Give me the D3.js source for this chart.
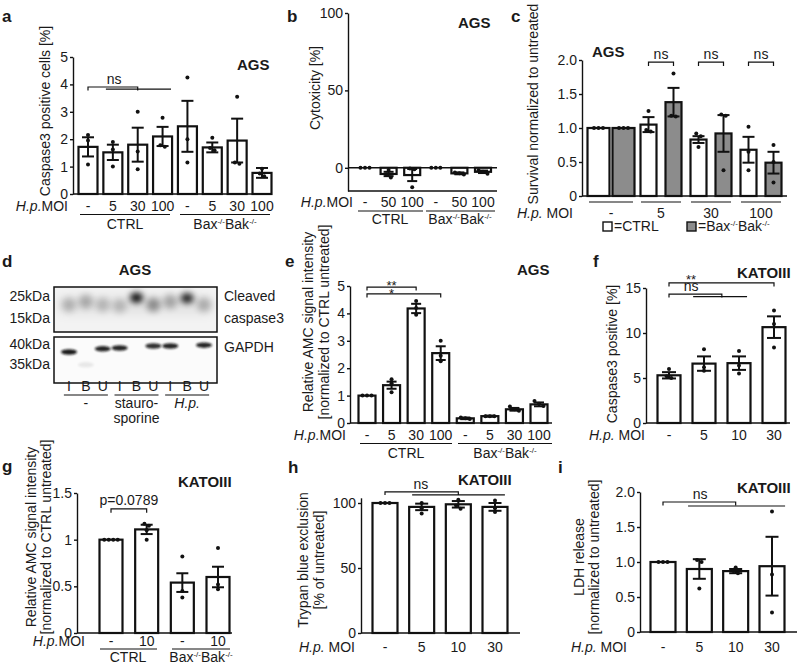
<!DOCTYPE html>
<html><head><meta charset="utf-8">
<script src="https://cdn.jsdelivr.net/npm/d3@7"></script>
<style>
body{margin:0;background:#fff;}
svg text{font-family:"Liberation Sans",Arial,Helvetica,sans-serif;fill:#1a1a1a;}
</style></head><body>
<script>
// ================= DATA =================
// a – AGS caspase3 positive cells
const aTicks=[0,1,2,3,4,5];
const aMOI=["-","5","30","100","-","5","30","100"];
const aMean=[1.72,1.52,1.80,2.10,2.47,1.70,1.95,0.77];
const aSEM=[0.35,0.28,0.62,0.35,0.93,0.18,0.80,0.18];
const aPts=[[2.15,1.95,1.08],[1.90,1.62,1.00],[3.00,1.55,0.90],[2.78,1.78,1.72],[4.25,2.00,1.15],[2.05,1.68,1.60],[3.55,1.15,1.10],[0.92,0.75,0.65]];
// b – AGS cytotoxicity
const bTicks=[0,50,100];
const bMOI=["-","50","100","-","50","100"];
const bMean=[0,-4.0,-4.7,0,-3.6,-2.6];
const bSEM=[0,1.4,3.9,0,0.6,0.8];
const bPts=[[0,0,0],[-1.5,-4.2,-6.3],[-0.5,-1.0,-12.5],[0,0,0],[-3.0,-3.6,-4.4],[-1.6,-2.6,-3.8]];
// c – AGS survival
const cTicks=[0,0.5,1.0,1.5,2.0];
const cMOI=["-","5","30","100"];
const cCtrl=[1.0,1.05,0.83,0.68];
const cCtrlSEM=[0,0.11,0.05,0.19];
const cCtrlPts=[[1,1,1],[1.25,0.97,0.95],[0.92,0.88,0.72],[1.02,0.65,0.38]];
const cBax=[1.0,1.38,0.92,0.49];
const cBaxSEM=[0,0.21,0.27,0.16];
const cBaxPts=[[1,1,1],[1.80,1.18,1.17],[1.20,1.18,0.38],[0.75,0.50,0.20]];
// d – western blot
const dLanes=["I","B","U","I","B","U","I","B","U"];
const dTreat=["-","stauro-|sporine","H.p."];
const dCasMW=[21.0,22.5,21.0,20.5,24.2,21.0,22.5,24.0,21.0];
const dCasInt=[0.22,0.26,0.20,0.20,1.0,0.38,0.28,0.9,0.24];
const dGapMW=[38.0,34.8,38.8,39.0,37,39.5,39.5,37,39.7];
const dGapInt=[0.95,0.08,0.90,0.90,0,0.85,0.90,0,0.90];
// e – AGS relative AMC
const eTicks=[0,1,2,3,4,5];
const eMOI=["-","5","30","100","-","5","30","100"];
const eMean=[1.0,1.38,4.18,2.55,0.17,0.25,0.50,0.68];
const eSEM=[0,0.13,0.17,0.25,0.03,0.02,0.05,0.07];
const ePts=[[1,1,1],[1.60,1.45,1.12],[4.45,4.20,3.95],[3.00,2.45,2.25],[0.20,0.17,0.15],[0.25,0.25,0.25],[0.60,0.50,0.45],[0.80,0.70,0.62]];
// f – KATOIII caspase3 positive
const fTicks=[0,5,10,15];
const fMOI=["-","5","10","30"];
const fMean=[5.3,6.6,6.65,10.65];
const fSEM=[0.35,0.8,0.75,1.2];
const fPts=[[6.0,5.2,5.0],[8.2,6.2,5.8],[8.0,6.4,5.5],[12.5,11.0,8.4]];
// g – KATOIII relative AMC
const gTicks=[0,0.5,1,1.5];
const gMOI=["-","10","-","10"];
const gMean=[1.0,1.11,0.54,0.60];
const gSEM=[0,0.05,0.10,0.11];
const gPts=[[1,1,1,1],[1.17,1.15,1.10,1.00],[0.82,0.45,0.38],[0.91,0.52,0.47]];
// h – KATOIII trypan blue
const hTicks=[0,50,100];
const hMOI=["-","5","10","30"];
const hMean=[100,97,99,97];
const hSEM=[0,2.5,2.5,3];
const hPts=[[100,100,100],[100,96,92],[102.5,98,95.5],[102,96,93]];
// i – KATOIII LDH release
const iTicks=[0,0.5,1.0,1.5,2.0];
const iMOI=["-","5","10","30"];
const iMean=[1.0,0.90,0.87,0.94];
const iSEM=[0,0.14,0.03,0.42];
const iPts=[[1,1,1],[1.03,1.0,0.62],[0.92,0.87,0.84],[1.72,0.82,0.28]];

// ================= HELPERS =================
const INK="#111";
const svg=d3.select("body").append("svg").attr("width",798).attr("height",667);
const defs=svg.append("defs");

function txt(x,y,s,o={}){
  const t=svg.append("text").attr("x",x).attr("y",y).text(s)
    .style("font-size",(o.size||14)+"px").attr("text-anchor",o.anchor||"start");
  if(o.bold) t.style("font-weight","bold");
  if(o.italic) t.style("font-style","italic");
  return t;
}
function line(x1,y1,x2,y2,w){
  return svg.append("line").attr("x1",x1).attr("y1",y1).attr("x2",x2).attr("y2",y2)
    .attr("stroke",INK).attr("stroke-width",w||1.4);
}
function hpLabel(x,y,space){
  const t=svg.append("text").attr("x",x).attr("y",y).attr("text-anchor","end").style("font-size","14px");
  t.append("tspan").style("font-style","italic").text("H.p.");
  t.append("tspan").text(space?" MOI":"MOI");
}
function baxLabel(x,y){
  const t=svg.append("text").attr("x",x).attr("y",y).attr("text-anchor","middle").style("font-size","14px");
  t.append("tspan").text("Bax");
  t.append("tspan").attr("dy",-5).style("font-size","8px").text("-/-");
  t.append("tspan").attr("dy",5).text("Bak");
  t.append("tspan").attr("dy",-5).style("font-size","8px").text("-/-");
}
function yLabel(cx,cy,lines,gap){
  const t=svg.append("text").attr("transform",`translate(${cx},${cy}) rotate(-90)`)
    .attr("text-anchor","middle").style("font-size","14px");
  lines.forEach((l,i)=>t.append("tspan").attr("x",0).attr("y",(i-(lines.length-1)/2)*(gap||15)).attr("dy","0.35em").text(l));
}
function yAxis(y,ax,ticks,fmt){
  const g=svg.append("g").attr("transform",`translate(${ax},0)`)
    .call(d3.axisLeft(y).tickValues(ticks).tickFormat(fmt).tickSize(3).tickSizeOuter(0).tickPadding(2));
  g.attr("font-family",null).attr("font-size",null);
  g.select(".domain").attr("stroke",INK).attr("stroke-width",1.4);
  g.selectAll(".tick line").attr("stroke",INK).attr("stroke-width",1.4);
  g.selectAll(".tick text").style("font-size","14px").attr("fill","#1a1a1a");
}
function drawBar(y,cx,w,mean,sem,pts,capW,fill){
  const y0=y(0), ym=y(mean);
  svg.append("rect").attr("x",cx-w/2).attr("y",Math.min(y0,ym)).attr("width",w)
    .attr("height",Math.abs(ym-y0)).attr("fill",fill||"#fff").attr("stroke",INK).attr("stroke-width",2.2);
  if(sem>0){
    const yt=y(mean+sem), yb=y(mean-sem);
    line(cx,yt,cx,yb,2);
    line(cx-capW/2,yt,cx+capW/2,yt,2);
    line(cx-capW/2,yb,cx+capW/2,yb,2);
  }
  const ps=pts.map(v=>y(v)).sort((a,b)=>a-b);
  const cl=[];
  ps.forEach(p=>{const c=cl[cl.length-1]; if(c&&p-c[c.length-1]<3.5) c.push(p); else cl.push([p]);});
  cl.forEach(c=>c.forEach((p,j)=>svg.append("circle").attr("cx",cx+(j-(c.length-1)/2)*4.5).attr("cy",p).attr("r",2).attr("fill",INK)));
}
function bracketPx(x0,x1,yy,d0,d1){
  svg.append("path").attr("d",`M${x0},${yy+d0}V${yy}H${x1}V${yy+d1}`)
    .attr("fill","none").attr("stroke",INK).attr("stroke-width",1.2);
}
function simplePanel(o){
  const y=d3.scaleLinear().domain(o.domain).range(o.px);
  const x=d3.scalePoint().domain(d3.range(o.mean.length)).range(o.range);
  const X=f=>x(0)+f*x.step();
  yAxis(y,o.axisX,o.ticks,o.fmt||(d=>d));
  line(o.axisX,y(o.base||0),o.axisEnd,y(o.base||0),1.4);
  o.mean.forEach((m,i)=>drawBar(y,x(i),o.barW,m,o.sem[i],o.pts[i],o.capW));
  o.labels.forEach((l,i)=>txt(x(i),o.tickY,l,{anchor:"middle"}));
  (o.brackets||[]).forEach(b=>bracketPx(X(b[0]),X(b[1]),y(b[2]),b[3],b[4]));
  (o.notes||[]).forEach(n=>txt(X(n[0]),y(n[1]),n[2],{anchor:"middle",size:n[3]||14}));
  return {x,y,X};
}

// ================= PANEL a =================
txt(2,22,"a",{bold:true,size:17});
txt(237,70,"AGS",{bold:true,size:15});
yLabel(45,111,["Caspase3 positive cells [%]"]);
simplePanel({domain:[0,5],px:[194,57],axisX:73,axisEnd:272,range:[88,262],barW:19,capW:12,
  ticks:aTicks,mean:aMean,sem:aSEM,pts:aPts,labels:aMOI,tickY:211,
  brackets:[[0,2,3.905,3.5,3.5],[0.72,3.34,3.83,0,0]],notes:[[1.05,4.02,"ns"]]});
hpLabel(68,211,false);
line(80,214.5,170,214.5,1.2); line(180,214.5,270,214.5,1.2);
txt(125,229,"CTRL",{anchor:"middle"}); baxLabel(225,229);

// ================= PANEL b =================
txt(287,22,"b",{bold:true,size:17});
txt(458,28,"AGS",{bold:true,size:15});
yLabel(315,88,["Cytoxicity [%]"]);
const pb=simplePanel({domain:[-15,100],px:[191,13],axisX:348,axisEnd:497,range:[365,483],barW:16,capW:10,
  ticks:bTicks,mean:bMean,sem:bSEM,pts:bPts,labels:bMOI,tickY:207});
line(348,pb.y(-15),497,pb.y(-15),1.4);
hpLabel(353,207,false);
line(358,211,423,211,1.2); line(426,211,495,211,1.2);
txt(390,224,"CTRL",{anchor:"middle"}); baxLabel(460,224);

// ================= PANEL c =================
txt(511,22,"c",{bold:true,size:17});
txt(592,57,"AGS",{bold:true,size:15});
yLabel(533,104,["Survival normalized to untreated"]);
(function(){
  const y=d3.scaleLinear().domain([0,2]).range([196,60]);
  const x=d3.scalePoint().domain(d3.range(cMOI.length)).range([611,761]);
  yAxis(y,582,cTicks,d=>d===0?"0":d3.format(".1f")(d));
  line(582,y(0),787,y(0),1.4);
  cMOI.forEach((m,i)=>{
    const w=i===0?22:16, off=12.5;
    drawBar(y,x(i)-off,w,cCtrl[i],cCtrlSEM[i],cCtrlPts[i],12,"#fff");
    drawBar(y,x(i)+off,w,cBax[i],cBaxSEM[i],cBaxPts[i],12,"#8c8c8c");
    if(i>0){ bracketPx(x(i)-off,x(i)+off,y(1.97),4,4); txt(x(i),y(2.01),"ns",{anchor:"middle"}); }
    const hw=i===0?22:20;
    line(x(i)-hw,202,x(i)+hw,202,1.2);
    txt(x(i),218,m,{anchor:"middle"});
  });
  hpLabel(573,218,true);
  svg.append("rect").attr("x",603).attr("y",222).attr("width",9).attr("height",9).attr("fill","#fff").attr("stroke",INK).attr("stroke-width",1.4);
  txt(614,231,"=CTRL");
  svg.append("rect").attr("x",687).attr("y",222).attr("width",9).attr("height",9).attr("fill","#8c8c8c").attr("stroke",INK).attr("stroke-width",1.4);
  const t=txt(698,231,"=Bax");
  t.append("tspan").attr("dy",-5).style("font-size","8px").text("-/-");
  t.append("tspan").attr("dy",5).text("Bak");
  t.append("tspan").attr("dy",-5).style("font-size","8px").text("-/-");
})();

// ================= PANEL d (blot) =================
txt(2,267,"d",{bold:true,size:17});
txt(135,275,"AGS",{anchor:"middle",bold:true,size:15});
(function(){
  const lx=d3.scalePoint().domain(d3.range(dLanes.length)).range([69,204]);
  const mwTop=d3.scaleLinear().domain([25,15]).range([296,318]);
  const mwBot=d3.scaleLinear().domain([40,35]).range([344,364]);
  const f1=defs.append("filter").attr("id","blurCas").attr("x","-100%").attr("y","-100%").attr("width","300%").attr("height","300%");
  f1.append("feGaussianBlur").attr("stdDeviation",3);
  const f0=defs.append("filter").attr("id","blurHaze").attr("x","-50%").attr("y","-50%").attr("width","200%").attr("height","200%");
  f0.append("feGaussianBlur").attr("stdDeviation",6);
  const f2=defs.append("filter").attr("id","blurGap").attr("x","-50%").attr("y","-100%").attr("width","200%").attr("height","300%");
  f2.append("feGaussianBlur").attr("stdDeviation",0.9);
  defs.append("clipPath").attr("id","clipTop").append("rect").attr("x",54).attr("y",287).attr("width",163).attr("height",45);
  defs.append("clipPath").attr("id","clipBot").append("rect").attr("x",54).attr("y",337).attr("width",163).attr("height",46);
  svg.append("rect").attr("x",54).attr("y",287).attr("width",163).attr("height",45).attr("fill","#f3f3f3");
  const gt=svg.append("g").attr("clip-path","url(#clipTop)");
  // general haze along the lanes
  gt.append("rect").attr("x",58).attr("y",296).attr("width",155).attr("height",18).attr("fill","#000").attr("opacity",0.07).attr("filter","url(#blurHaze)");
  dCasInt.forEach((v,i)=>{
    gt.append("ellipse").attr("cx",lx(i)).attr("cy",mwTop(dCasMW[i])).attr("rx",v>0.5?6.5:7).attr("ry",v>0.5?5:7)
      .attr("fill","#000").attr("opacity",v).attr("filter","url(#blurCas)");
  });
  svg.append("rect").attr("x",54).attr("y",287).attr("width",163).attr("height",45).attr("fill","none").attr("stroke",INK).attr("stroke-width",1.5);
  svg.append("rect").attr("x",54).attr("y",337).attr("width",163).attr("height",46).attr("fill","#fbfbfb");
  const gb=svg.append("g").attr("clip-path","url(#clipBot)");
  dGapInt.forEach((v,i)=>{
    if(v<=0) return;
    gb.append("ellipse").attr("cx",lx(i)).attr("cy",mwBot(dGapMW[i])).attr("rx",8).attr("ry",2.7)
      .attr("fill","#111").attr("opacity",v).attr("filter","url(#blurGap)");
  });
  svg.append("rect").attr("x",54).attr("y",337).attr("width",163).attr("height",46).attr("fill","none").attr("stroke",INK).attr("stroke-width",1.5);
  [[25,mwTop],[15,mwTop],[40,mwBot],[35,mwBot]].forEach(([k,s])=>txt(50,s(k)+5,k+"kDa",{anchor:"end"}));
  txt(224,301,"Cleaved"); txt(224,323,"caspase3"); txt(224,352,"GAPDH");
  dLanes.forEach((l,i)=>txt(lx(i),391,l,{anchor:"middle"}));
  dTreat.forEach((t,k)=>{
    const c=lx(k*3+1);
    line(c-22,395,c+22,395,1.2);
    t.split("|").forEach((s,j)=>txt(c,408+j*15,s,{anchor:"middle",italic:s==="H.p."}));
  });
})();

// ================= PANEL e =================
txt(285,267,"e",{bold:true,size:17});
txt(517,275,"AGS",{bold:true,size:15});
yLabel(316,322,["Relative AMC signal intensity","[normalized to CTRL untreated]"],16);
simplePanel({domain:[0,5],px:[423,286],axisX:350,axisEnd:552,range:[367,539],barW:17,capW:10,
  ticks:eTicks,mean:eMean,sem:eSEM,pts:ePts,labels:eMOI,tickY:440,
  brackets:[[0,2,4.96,3.5,3.5],[0,3,4.71,3.5,3.5]],notes:[[1,4.85,"**",13],[1,4.56,"*",13]]});
hpLabel(346,440,false);
line(360,443.5,452,443.5,1.2); line(458,443.5,552,443.5,1.2);
txt(406,458,"CTRL",{anchor:"middle"}); baxLabel(505,458);

// ================= PANEL f =================
txt(593,267,"f",{bold:true,size:17});
txt(737,278,"KATOIII",{bold:true,size:15});
yLabel(612,354,["Caspase3 positive [%]"]);
simplePanel({domain:[0,15],px:[423,288],axisX:646,axisEnd:790,range:[669,774],barW:23,capW:14,
  ticks:fTicks,mean:fMean,sem:fSEM,pts:fPts,labels:fMOI,tickY:440,
  brackets:[[0,3,15.56,3.5,3.5],[0,1.51,14.33,3.5,3.5],[0.69,2.23,14.04,0,0]],
  notes:[[0.63,15.45,"**",13],[0.63,14.67,"ns"]]});
hpLabel(645,440,true);

// ================= PANEL g =================
txt(2,472,"g",{bold:true,size:17});
txt(178,487,"KATOIII",{bold:true,size:15});
yLabel(39,537,["Relative AMC signal intensity","[normalized to CTRL untreated]"],15);
simplePanel({domain:[0,1.5],px:[633,493],axisX:77,axisEnd:232,range:[111,218],barW:23,capW:12,
  ticks:gTicks,mean:gMean,sem:gSEM,pts:gPts,labels:gMOI,tickY:646,
  brackets:[[0,1,1.33,4,4]],notes:[[0.5,1.37,"p=0.0789"]]});
hpLabel(85,646,false);
line(100,649,157,649,1.2); line(172,649,230,649,1.2);
txt(128,662,"CTRL",{anchor:"middle"}); baxLabel(201,662);

// ================= PANEL h =================
txt(288,473,"h",{bold:true,size:17});
txt(458,485,"KATOIII",{bold:true,size:15});
yLabel(311,560,["Trypan blue exclusion","[% of untreated]"],16);
simplePanel({domain:[0,104],px:[633,497.8],axisX:361,axisEnd:520,range:[385,495],barW:25,capW:13,
  ticks:hTicks,mean:hMean,sem:hSEM,pts:hPts,labels:hMOI,tickY:652,
  brackets:[[0,2,108.5,3,3],[0.74,3.27,106.2,0,0]],notes:[[0.98,110.8,"ns"]]});
hpLabel(355,652,true);

// ================= PANEL i =================
txt(558,473,"i",{bold:true,size:17});
txt(737,493,"KATOIII",{bold:true,size:15});
yLabel(587,557,["LDH release","[normalized to untreated]"],15);
simplePanel({domain:[0,2],px:[632,492],axisX:640,axisEnd:797,range:[663,772],barW:25,capW:13,
  ticks:iTicks,fmt:d=>d===0?"0":d3.format(".1f")(d),mean:iMean,sem:iSEM,pts:iPts,labels:iMOI,tickY:652,
  brackets:[[0,2,1.857,3.5,3.5],[0.69,3.36,1.8,0,0]],notes:[[1.02,1.9,"ns"]]});
hpLabel(627,652,true);
</script></body></html>
